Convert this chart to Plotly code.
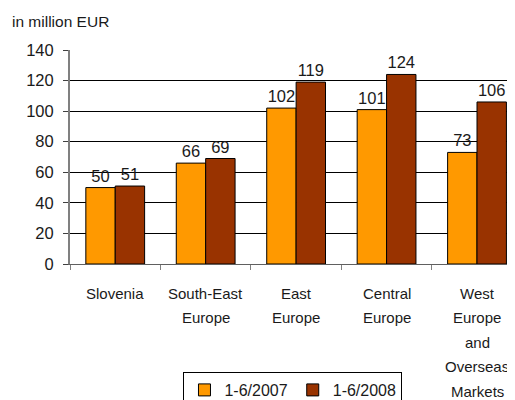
import plotly.graph_objects as go

categories = ["Slovenia", "South-East\nEurope", "East\nEurope", "Central\nEurope",
              "West\nEurope\nand\nOverseas\nMarkets"]
series_2007 = [50, 66, 102, 101, 73]
series_2008 = [51, 69, 119, 124, 106]
series_names = ["1-6/2007", "1-6/2008"]
y_ticks = [0, 20, 40, 60, 80, 100, 120, 140]

FONT = "Liberation Sans, Arial, sans-serif"
TXT = "#1a1a1a"
x_idx = list(range(len(categories)))

# the page body adds an 8px margin, so the figure is sized to fill the rest
W, H = 507, 392

fig = go.Figure()
for name, vals, col in [(series_names[0], series_2007, "#FF9900"),
                        (series_names[1], series_2008, "#993300")]:
    fig.add_trace(go.Bar(
        x=x_idx, y=vals, name=name,
        marker=dict(color=col, line=dict(color="#000000", width=1)),
        text=[str(v) for v in vals], textposition="outside",
        textfont=dict(family=FONT, size=16.5, color=TXT),
        cliponaxis=False,
    ))

# category labels, one annotation per line for the original line spacing
for i, cat in enumerate(categories):
    for j, line in enumerate(cat.split("\n")):
        fig.add_annotation(x=i, xref="x", y=0, yref="paper", text=line,
                           showarrow=False, yanchor="middle",
                           yshift=-(29 + 24.5 * j),
                           font=dict(family=FONT, size=15, color=TXT))

fig.update_layout(
    width=W, height=H,
    margin=dict(l=62, r=0, t=42, b=136, autoexpand=False),
    paper_bgcolor="white", plot_bgcolor="white",
    barmode="group", bargap=0.35, bargroupgap=0,
    font=dict(family=FONT, color=TXT),
    title=dict(text="in million EUR", x=4 / W, xanchor="left",
               y=1 - 14 / H, yanchor="middle", xref="container", yref="container",
               font=dict(family=FONT, size=15.5, color=TXT)),
    legend=dict(orientation="h", x=0.255, xanchor="left",
                y=1 - 364 / H, yanchor="top", yref="container",
                bordercolor="#000000", borderwidth=1,
                font=dict(family=FONT, size=16, color=TXT),
                itemwidth=30, tracegroupgap=0),
    showlegend=True,
)
fig.update_xaxes(type="linear", range=[-0.5, 4.42], tickvals=[-0.5, 0.5, 1.5, 2.5, 3.5],
                 showticklabels=False, ticks="outside", ticklen=5,
                 tickcolor="#808080", showgrid=False, zeroline=False,
                 showline=True, linecolor="#606060", linewidth=1)
fig.update_yaxes(range=[0, 140], tickvals=y_ticks, ticks="outside", ticklen=5,
                 tickcolor="#404040", showgrid=True, gridcolor="#000000", gridwidth=1,
                 zeroline=False, showline=True, linecolor="#808080", linewidth=2,
                 tickfont=dict(family=FONT, size=16.5, color=TXT), ticklabelstandoff=6)

fig.write_html("out.html")
